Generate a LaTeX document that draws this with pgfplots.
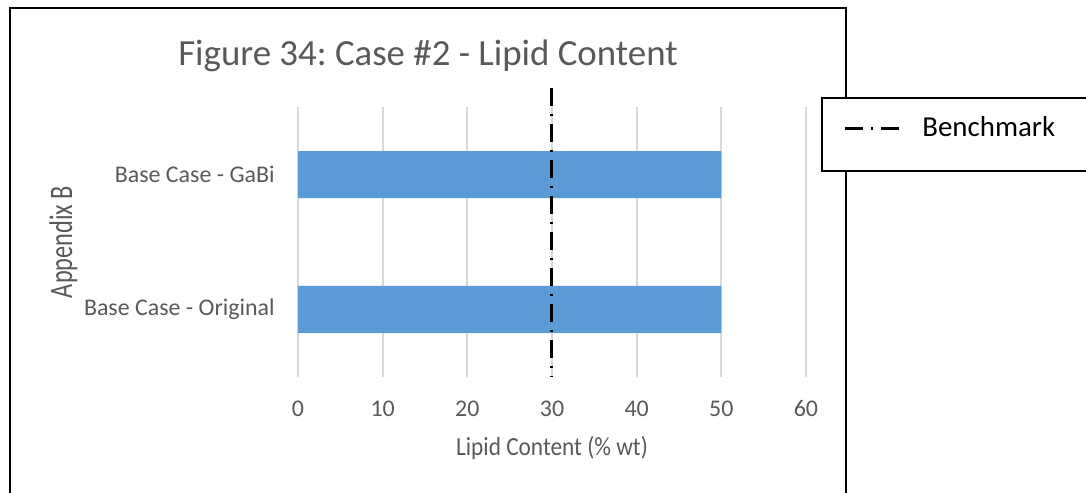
\documentclass[border=0pt]{standalone}
\usepackage{pgfplots}
\pgfplotsset{compat=1.18}
\usepackage{fontspec}
\setmainfont{Carlito}
\frenchspacing
\definecolor{barblue}{HTML}{5B9BD5}
\definecolor{txt}{HTML}{595959}
\definecolor{gridc}{HTML}{D9D9D9}
\begin{document}
\begin{tikzpicture}
\path[use as bounding box] (0,0) rectangle (543bp,246.5bp);
\draw[line width=1bp] (5bp,-2bp) -- (5bp,242.5bp) -- (423bp,242.5bp) -- (423bp,-2bp);
\draw[line width=1bp, fill=white] (411bp,161bp) rectangle (546bp,197.5bp);
\node[anchor=base, text=txt, font=\fontsize{18.5}{21}\selectfont] at (214bp,213.5bp) {Figure 34: Case \#2 - Lipid Content};
\begin{axis}[
  at={(149bp,58bp)}, anchor=south west,
  width=254bp, height=135bp, scale only axis,
  xmin=0, xmax=60, ymin=-0.5, ymax=1.5,
  xtick={0,10,20,30,40,50,60},
  ytick={0,1},
  yticklabels={Base Case - Original, Base Case - GaBi},
  axis line style={draw=none},
  major tick style={draw=none},
  xmajorgrids, grid style={gridc, line width=1bp},
  /pgf/number format/assume math mode=true,
  xticklabel style={anchor=center, yshift=-16bp, inner sep=0pt, text=txt, font=\fontsize{12}{14}\selectfont},
  yticklabel style={anchor=east, xshift=-11.5bp, inner sep=0pt, text=txt, font=\fontsize{12}{14}\selectfont},
  xlabel={\scalebox{1}[1.12]{Lipid Content (\% wt)}},
  xlabel style={at={(rel axis cs:0.5,-0.263)}, anchor=center, text=txt, font=\fontsize{11.7}{13}\selectfont},
  ylabel={\scalebox{1}[1.35]{Appendix B}},
  ylabel style={at={(rel axis cs:-0.462,0.5)}, anchor=center, text=txt, font=\fontsize{12.2}{14}\selectfont},
  clip=false,
  legend style={at={(rel axis cs:1.0728,0.922)}, anchor=west, draw=none, fill=none, inner sep=0pt, font=\fontsize{14.5}{16}\selectfont, column sep=9bp},
  legend cell align=left,
  legend image code/.code={\draw[#1] (0bp,0bp) -- (27bp,0bp);},
]
\addplot[xbar, fill=barblue, draw=none, bar width=23.5bp, forget plot] coordinates {(50,0) (50,1)};
\addplot[black, line width=1.5bp, dash pattern=on 9bp off 4bp on 1bp off 4bp] coordinates {(30,1.64) (30,-0.5)};
\addlegendentry{Benchmark}
\end{axis}
\end{tikzpicture}
\end{document}
